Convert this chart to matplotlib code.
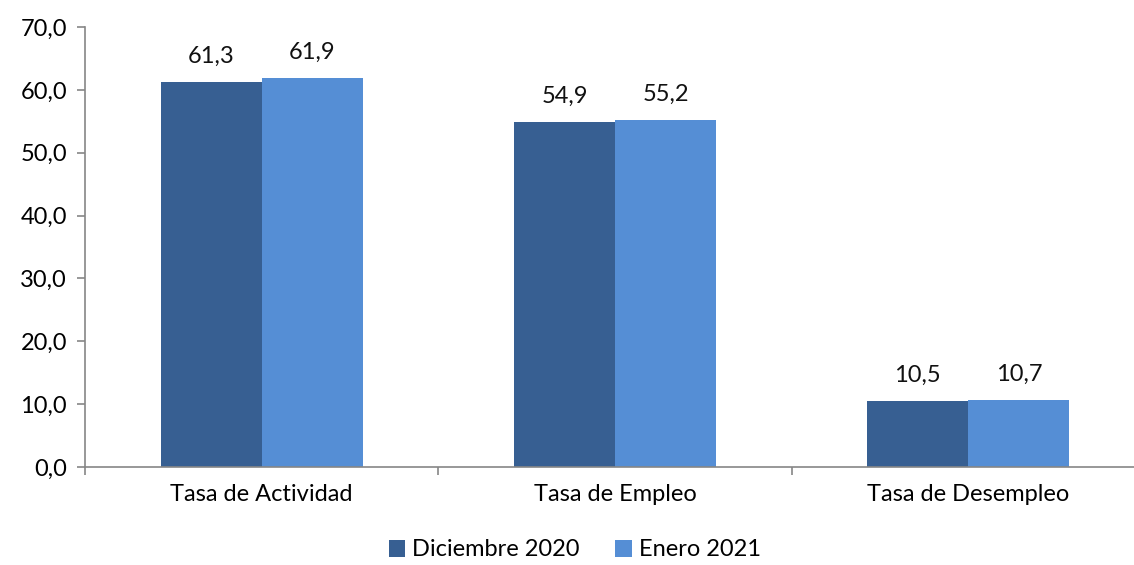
import matplotlib.pyplot as plt
import numpy as np

categories = ['Tasa de Actividad', 'Tasa de Empleo', 'Tasa de Desempleo']
series_names = ['Diciembre 2020', 'Enero 2021']
dic_2020 = [61.3, 54.9, 10.5]
ene_2021 = [61.9, 55.2, 10.7]
colors = ['#375F92', '#558ED5']

plt.rcParams['font.family'] = ['Lato', 'DejaVu Sans']

fig = plt.figure(figsize=(11.34, 5.65), dpi=100)
ax = fig.add_axes([85 / 1134, 1 - 467 / 565, 1060 / 1134, 440 / 565])

x = np.arange(len(categories))
w = 0.286
fs = 17
for vals, off, col, name in [(dic_2020, -w / 2, colors[0], series_names[0]),
                             (ene_2021, w / 2, colors[1], series_names[1])]:
    bars = ax.bar(x + off, vals, width=w, color=col, label=name, edgecolor='none')
    for b, v in zip(bars, vals):
        ax.text(b.get_x() + b.get_width() / 2, v + 2.4, f'{v:.1f}'.replace('.', ','),
                ha='center', va='bottom', fontsize=fs, color='#111111')

ax.set_xlim(-0.5, 2.5)
ax.set_ylim(0, 70)
ax.set_yticks(np.arange(0, 71, 10))
ax.set_yticklabels([f'{v:.1f}'.replace('.', ',') for v in np.arange(0, 71, 10)])
ax.set_xticks(x)
ax.set_xticklabels(categories)
ax.tick_params(axis='x', length=0, labelsize=fs, pad=12)
ax.tick_params(axis='y', length=6, width=1.2, color='#868686', labelsize=fs, pad=7)
# category separator ticks
ax.set_xticks([-0.5, 0.5, 1.5, 2.5], minor=True)
ax.tick_params(axis='x', which='minor', length=6, width=1.2, color='#868686')

for s in ['top', 'right']:
    ax.spines[s].set_visible(False)
for s in ['left', 'bottom']:
    ax.spines[s].set_color('#868686')
    ax.spines[s].set_linewidth(1.2)

fig.legend(loc='center', bbox_to_anchor=(0.507, 1 - 550 / 565), ncol=2, frameon=False,
           fontsize=fs, handlelength=0.7, handleheight=0.7, handletextpad=0.3,
           columnspacing=1.5)

fig.savefig('out.png', dpi=100)
